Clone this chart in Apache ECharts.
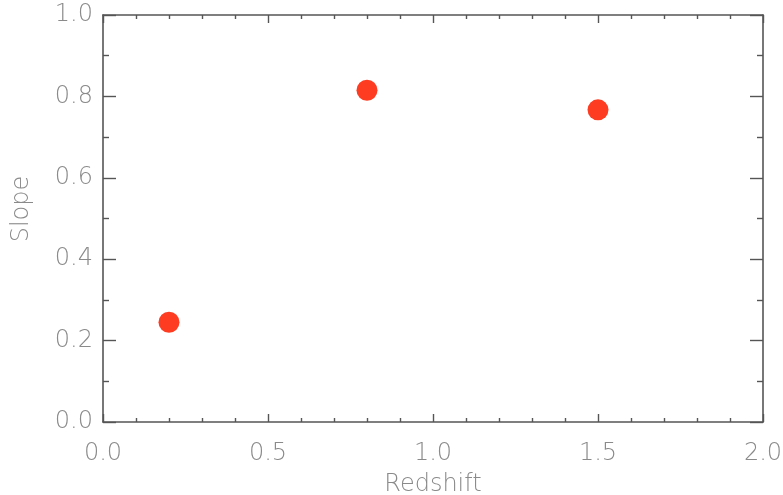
<!DOCTYPE html>
<html>
<head>
<meta charset="utf-8">
<style>
  html, body { margin: 0; padding: 0; background: #ffffff; }
  #chart { width: 783px; height: 495px; }
</style>
<script src="https://cdn.jsdelivr.net/npm/echarts@6/dist/echarts.min.js"></script>
</head>
<body>
<div id="chart"></div>
<script>
// Measured slope at each redshift
const redshift = [0.2, 0.8, 1.5];
const slope = [0.245, 0.815, 0.767];

const xTitle = 'Redshift';
const yTitle = 'Slope';

const axisColor = '#555555';
const labelColor = '#8a8a8a';
const fontFamily = '"DejaVu Sans", sans-serif';

const chart = echarts.init(document.getElementById('chart'), null, { renderer: 'canvas' });

function frameAxis(opts) {
  return Object.assign({
    type: 'value',
    axisLine: { show: true, onZero: false, lineStyle: { color: axisColor, width: 1.6 } },
    splitLine: { show: false },
    minorSplitLine: { show: false }
  }, opts);
}

function ticks(major, minor, parts) {
  return {
    axisTick: { show: true, inside: true, length: major, lineStyle: { color: axisColor, width: 1.4 } },
    minorTick: { show: true, splitNumber: parts, length: minor, lineStyle: { color: axisColor, width: 1.4 } }
  };
}

const labelStyle = {
  color: labelColor,
  fontSize: 24,
  fontFamily: fontFamily,
  fontWeight: 200,
  formatter: v => v.toFixed(1)
};

const titleStyle = { color: labelColor, fontSize: 24, fontFamily: fontFamily, fontWeight: 200 };

chart.setOption({
  backgroundColor: '#ffffff',
  animation: false,
  grid: { left: 103, right: 20, top: 15, bottom: 73, containLabel: false, outerBoundsMode: 'none' },
  xAxis: [
    frameAxis(Object.assign({
      min: 0, max: 2, interval: 0.5, position: 'bottom',
      axisLabel: Object.assign({ margin: 20 }, labelStyle),
      name: xTitle, nameLocation: 'middle', nameGap: 51,
      nameTextStyle: titleStyle
    }, ticks(8, 4, 5))),
    frameAxis(Object.assign({
      min: 0, max: 2, interval: 0.5, position: 'top',
      axisLabel: { show: false }
    }, ticks(8, 4, 5)))
  ],
  yAxis: [
    frameAxis(Object.assign({
      min: 0, max: 1, interval: 0.2, position: 'left',
      axisLabel: Object.assign({ margin: 10 }, labelStyle)
    }, ticks(13, 6, 2))),
    frameAxis(Object.assign({
      min: 0, max: 1, interval: 0.2, position: 'right',
      axisLabel: { show: false }
    }, ticks(13, 6, 2)))
  ],
  graphic: [{
    type: 'text',
    x: 22,
    y: 209,
    rotation: Math.PI / 2,
    style: { text: yTitle, align: 'center', verticalAlign: 'middle', fill: labelColor,
      font: '200 24px ' + fontFamily }
  }],
  series: [{
    type: 'scatter',
    xAxisIndex: 0,
    yAxisIndex: 0,
    symbol: 'circle',
    symbolSize: 21,
    itemStyle: { color: '#fd3c22', opacity: 1 },
    data: redshift.map((x, i) => [x, slope[i]])
  }]
});
</script>
</body>
</html>
